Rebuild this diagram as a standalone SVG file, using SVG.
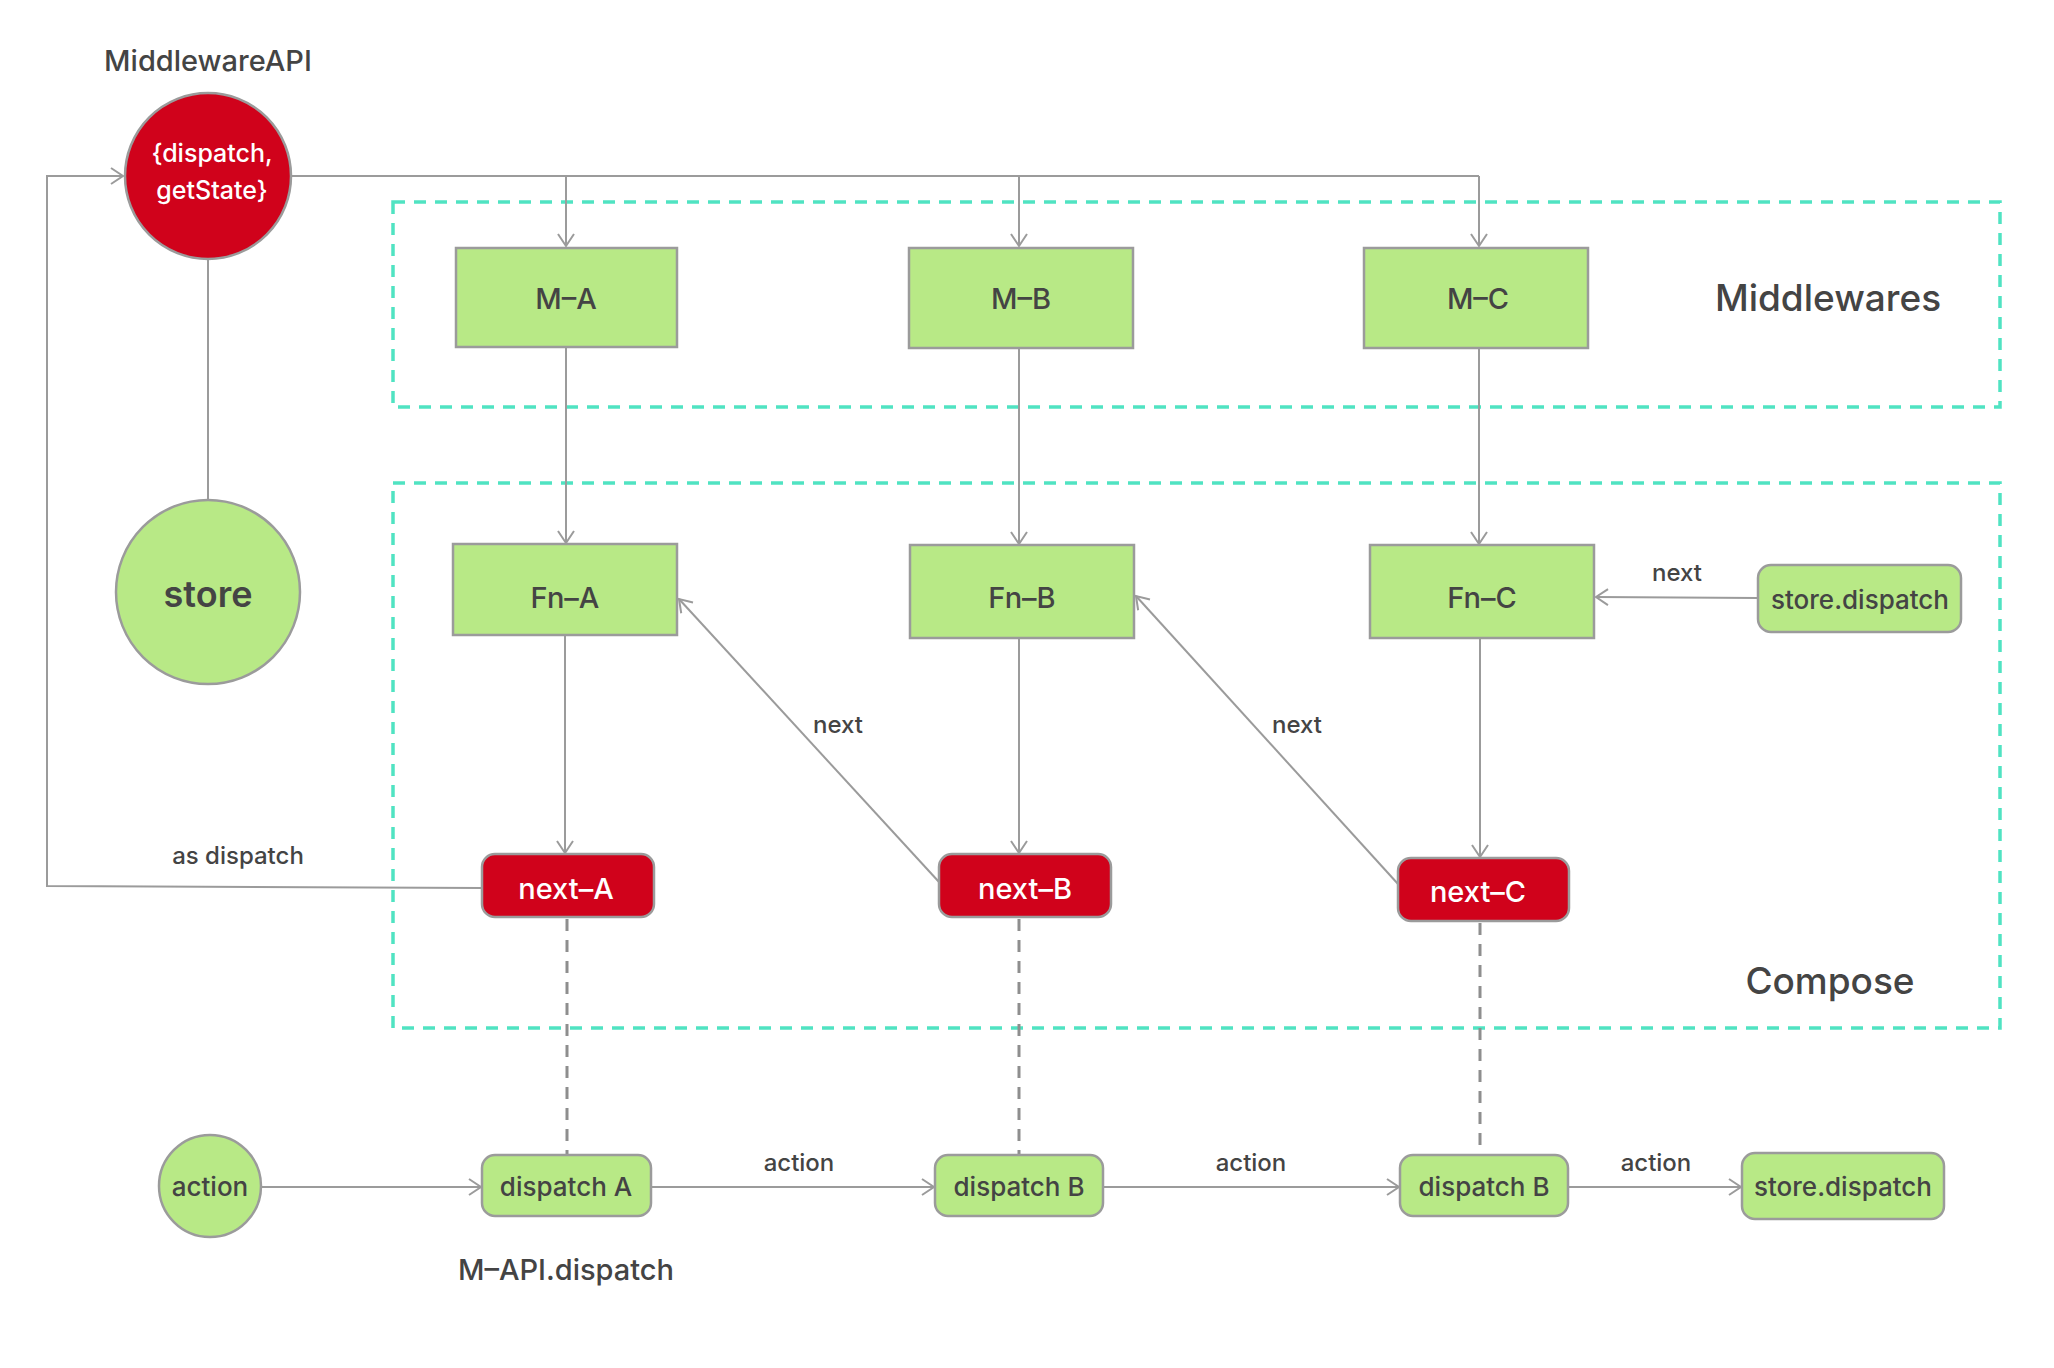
<svg xmlns="http://www.w3.org/2000/svg" width="2054" height="1368" viewBox="0 0 2054 1368">
  <defs>
    <marker id="arrow" markerUnits="userSpaceOnUse" markerWidth="20" markerHeight="20" viewBox="0 0 20 20" refX="15" refY="10" orient="auto">
      <path d="M3,2 L15,10 L3,18" fill="none" stroke="#9b9b9b" stroke-width="2"/>
    </marker>
    <style>
      text { font-family: Inter, "Liberation Sans", sans-serif; font-weight: 500; fill: #444; text-anchor: middle; dominant-baseline: central; }
      .green { fill: #b8e986; stroke: #9b9b9b; stroke-width: 2.5; }
      .red { fill: #d0021b; stroke: #9b9b9b; stroke-width: 2.5; }
      .white { fill: #fff; }
      .wire { fill: none; stroke: #9b9b9b; stroke-width: 2; }
      .dash { fill: none; stroke: #8e8e8e; stroke-width: 3; stroke-dasharray: 12 9; }
      .frame { fill: none; stroke: #50e3c2; stroke-width: 3.5; stroke-dasharray: 12 9; }
      .box { font-size: 29px; }
      .lbl { font-size: 24px; }
      .title { font-size: 37px; }
    </style>
  </defs>

  <rect width="2054" height="1368" fill="#fff"/>

  <!-- group frames -->
  <g id="frames">
    <rect class="frame" x="393" y="202" width="1607" height="205"/>
    <rect class="frame" x="393" y="483" width="1607" height="545"/>
    <text class="title" x="1828" y="297">Middlewares</text>
    <text class="title" x="1830" y="980">Compose</text>
  </g>

  <!-- connectors -->
  <g id="connectors">
    <!-- middleware API fan-out -->
    <path class="wire" d="M291,176 H1479"/>
    <path class="wire" d="M566,176 V246" marker-end="url(#arrow)"/>
    <path class="wire" d="M1019,176 V246" marker-end="url(#arrow)"/>
    <path class="wire" d="M1479,176 V246" marker-end="url(#arrow)"/>
    <!-- store to middleware API -->
    <path class="wire" d="M208,259 V500"/>
    <!-- next-A fed back as dispatch -->
    <path class="wire" d="M482,888 L47,886 V176 H123" marker-end="url(#arrow)"/>
    <!-- middlewares to functions -->
    <path class="wire" d="M566,347 V543" marker-end="url(#arrow)"/>
    <path class="wire" d="M1019,348 V544" marker-end="url(#arrow)"/>
    <path class="wire" d="M1479,348 V544" marker-end="url(#arrow)"/>
    <!-- functions to next -->
    <path class="wire" d="M565,635 V853" marker-end="url(#arrow)"/>
    <path class="wire" d="M1019,638 V853" marker-end="url(#arrow)"/>
    <path class="wire" d="M1480,638 V857" marker-end="url(#arrow)"/>
    <!-- next chain -->
    <path class="wire" d="M939,882 L679,599" marker-end="url(#arrow)"/>
    <path class="wire" d="M1398,884 L1136,596" marker-end="url(#arrow)"/>
    <path class="wire" d="M1758,598 L1596,597" marker-end="url(#arrow)"/>
    <!-- next to dispatch -->
    <path class="dash" d="M567,919 V1154"/>
    <path class="dash" d="M1019,919 V1154"/>
    <path class="dash" d="M1480,923 V1154"/>
    <!-- action flow -->
    <path class="wire" d="M261,1187 H481" marker-end="url(#arrow)"/>
    <path class="wire" d="M651,1187 H934" marker-end="url(#arrow)"/>
    <path class="wire" d="M1103,1187 H1399" marker-end="url(#arrow)"/>
    <path class="wire" d="M1568,1187 H1741" marker-end="url(#arrow)"/>
    <!-- labels -->
    <text class="lbl" x="238" y="855">as dispatch</text>
    <text class="lbl" x="838" y="724">next</text>
    <text class="lbl" x="1297" y="724">next</text>
    <text class="lbl" x="1677" y="572">next</text>
    <text class="lbl" x="799" y="1162">action</text>
    <text class="lbl" x="1251" y="1162">action</text>
    <text class="lbl" x="1656" y="1162">action</text>
  </g>

  <!-- nodes -->
  <g id="middleware-api">
    <text style="font-size:29px" x="208" y="60">MiddlewareAPI</text>
    <circle class="red" cx="208" cy="176" r="83"/>
    <text class="white" style="font-size:25px" x="212" y="153">{dispatch,</text>
    <text class="white" style="font-size:25px" x="212" y="190">getState}</text>
  </g>
  <g id="store">
    <circle class="green" cx="208" cy="592" r="92"/>
    <text style="font-size:36px;font-weight:600" x="208" y="594">store</text>
  </g>

  <g id="m-a"><rect class="green" x="456" y="248" width="221" height="99"/><text class="box" x="566" y="298">M–A</text></g>
  <g id="m-b"><rect class="green" x="909" y="248" width="224" height="100"/><text class="box" x="1021" y="298">M–B</text></g>
  <g id="m-c"><rect class="green" x="1364" y="248" width="224" height="100"/><text class="box" x="1478" y="298">M–C</text></g>

  <g id="fn-a"><rect class="green" x="453" y="544" width="224" height="91"/><text class="box" x="565" y="597">Fn–A</text></g>
  <g id="fn-b"><rect class="green" x="910" y="545" width="224" height="93"/><text class="box" x="1022" y="597">Fn–B</text></g>
  <g id="fn-c"><rect class="green" x="1370" y="545" width="224" height="93"/><text class="box" x="1482" y="597">Fn–C</text></g>

  <g id="store-dispatch-top"><rect class="green" x="1758" y="565" width="203" height="67" rx="13"/><text class="lbl" x="1860" y="599" style="font-size:26px">store.dispatch</text></g>

  <g id="next-a"><rect class="red" x="482" y="854" width="172" height="63" rx="13"/><text class="box white" x="566" y="888">next–A</text></g>
  <g id="next-b"><rect class="red" x="939" y="854" width="172" height="63" rx="13"/><text class="box white" x="1025" y="888">next–B</text></g>
  <g id="next-c"><rect class="red" x="1398" y="858" width="171" height="63" rx="13"/><text class="box white" x="1478" y="891">next–C</text></g>

  <g id="action"><ellipse class="green" cx="210" cy="1186" rx="51" ry="51"/><text class="lbl" x="210" y="1186" style="font-size:26px">action</text></g>
  <g id="dispatch-a"><rect class="green" x="482" y="1155" width="169" height="61" rx="13"/><text class="lbl" x="566" y="1186" style="font-size:26px">dispatch A</text></g>
  <g id="dispatch-b1"><rect class="green" x="935" y="1155" width="168" height="61" rx="13"/><text class="lbl" x="1019" y="1186" style="font-size:26px">dispatch B</text></g>
  <g id="dispatch-b2"><rect class="green" x="1400" y="1155" width="168" height="61" rx="13"/><text class="lbl" x="1484" y="1186" style="font-size:26px">dispatch B</text></g>
  <g id="store-dispatch-bottom"><rect class="green" x="1742" y="1153" width="202" height="66" rx="13"/><text class="lbl" x="1843" y="1186" style="font-size:26px">store.dispatch</text></g>

  <g id="m-api-dispatch"><text style="font-size:29px" x="566" y="1269">M–API.dispatch</text></g>
</svg>
